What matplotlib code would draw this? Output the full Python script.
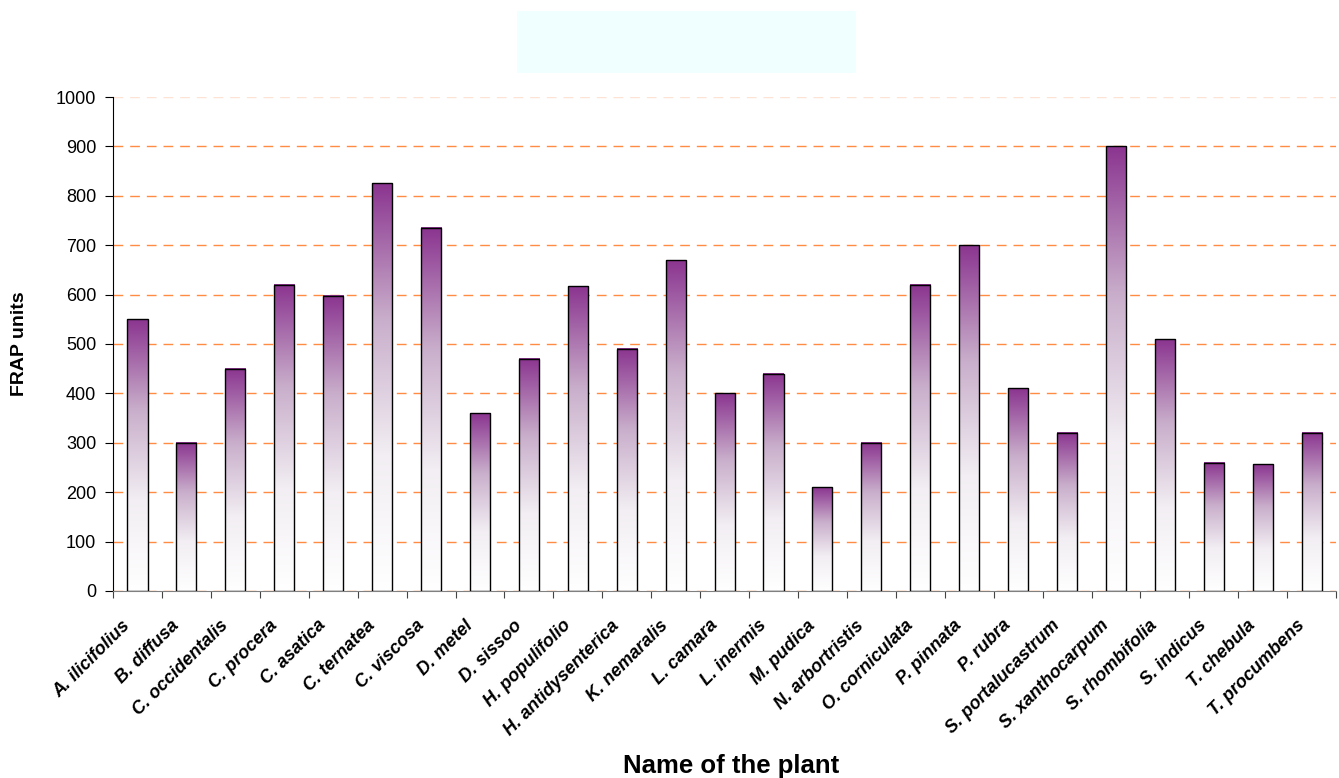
import numpy as np
import matplotlib.pyplot as plt
from matplotlib.colors import LinearSegmentedColormap
from matplotlib.patches import Rectangle

plt.rcParams['font.family'] = ['Liberation Sans', 'DejaVu Sans']

# FRAP data
plants = ['A. ilicifolius', 'B. diffusa', 'C. occidentalis', 'C. procera', 'C. asatica',
          'C. ternatea', 'C. viscosa', 'D. metel', 'D. sissoo', 'H. populifolio',
          'H. antidysenterica', 'K. nemaralis', 'L. camara', 'L. inermis', 'M. pudica',
          'N. arbortristis', 'O. corniculata', 'P. pinnata', 'P. rubra', 'S. portalucastrum',
          'S. xanthocarpum', 'S. rhombifolia', 'S. indicus', 'T. chebula', 'T. procumbens']
frap = [550, 300, 450, 620, 598, 825, 735, 360, 470, 617,
        490, 670, 400, 440, 210, 300, 620, 700, 410, 320,
        900, 510, 260, 257, 320]
yticks = [0, 100, 200, 300, 400, 500, 600, 700, 800, 900, 1000]

fig = plt.figure(figsize=(13.39, 7.78), dpi=100)
ax = fig.add_axes([0.0844, 0.2404, 0.9135, 0.6349])

# light cyan box on top (empty title area)
fig.patches.append(Rectangle((517/1339, 1 - 73/778), 339/1339, 62/778,
                             transform=fig.transFigure, facecolor='#f0ffff',
                             edgecolor='none'))

cmap = LinearSegmentedColormap.from_list('purp', ['#ffffff', '#f2eef3', '#c9aecb', '#8b3590'])
grad = np.linspace(0, 1, 256).reshape(-1, 1)
w = 0.41
x = np.arange(len(plants))
for xi, v in zip(x, frap):
    ax.imshow(grad, extent=[xi - w/2, xi + w/2, 0, v], origin='lower', aspect='auto',
              cmap=cmap, zorder=2, interpolation='bilinear')
ax.bar(x, frap, width=w, facecolor='none', edgecolor='black', linewidth=1.0, zorder=3)

ax.set_xlim(-0.5, len(plants) - 0.5)
ax.set_ylim(0, 1000)
ax.set_yticks(yticks)
ax.set_yticklabels([str(t) for t in yticks], fontsize=13)
ax.yaxis.grid(True, color='#ff8c42', linestyle=(0, (7, 5)), linewidth=1.0, zorder=0)
ax.get_ygridlines()[-1].set_color('#fde3d3')
ax.set_axisbelow(True)

ax.set_xticks(np.arange(len(plants) + 1) - 0.5)
ax.set_xticklabels([])
# labels sit a bit left of the bar centre, like the original
ax.set_xticks(x - 0.2, minor=True)
ax.set_xticklabels(plants, minor=True, rotation=45, ha='right', va='center',
                   rotation_mode='anchor', fontsize=13, fontweight='bold', style='italic')
ax.tick_params(axis='x', which='minor', length=0, pad=23)
ax.tick_params(axis='x', which='major', length=5, color='#444444')
ax.tick_params(axis='y', length=6, pad=6)

for s in ['top', 'right']:
    ax.spines[s].set_visible(False)
ax.spines['bottom'].set_color('#808080')

ax.set_ylabel('FRAP units', fontsize=14, fontweight='bold', va='center')
ax.yaxis.set_label_coords(-0.0761, 0.5)
fig.text(731/1339, 0.007, 'Name of the plant', fontsize=18.5, fontweight='bold',
         ha='center', va='baseline')

fig.savefig('out.png', dpi=100)
